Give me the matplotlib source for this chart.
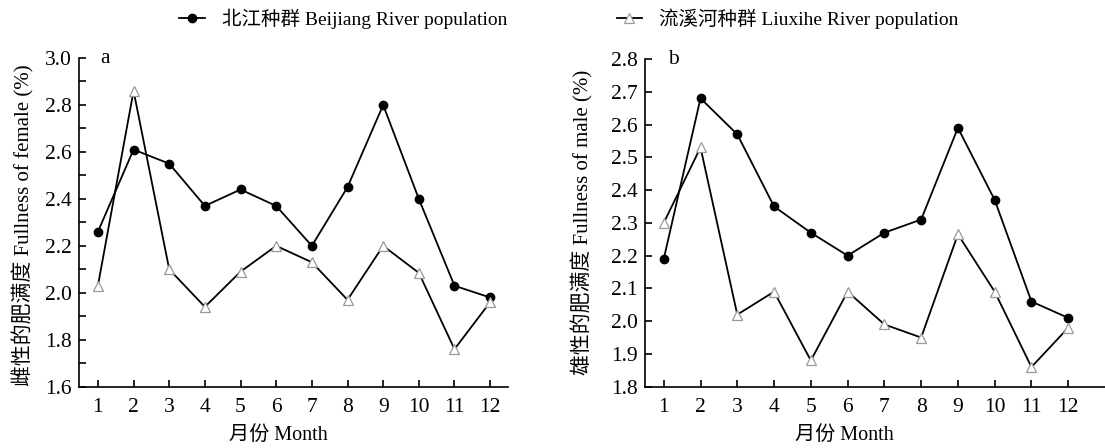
import numpy as np
import matplotlib.pyplot as plt
from matplotlib.ticker import MultipleLocator, FormatStrFormatter
from matplotlib.lines import Line2D

plt.rcParams['font.family'] = ['Liberation Serif', 'Noto Sans CJK SC']
plt.rcParams['axes.unicode_minus'] = False

months = np.arange(1, 13)

# female fullness (%)
female_beijiang = [2.26, 2.61, 2.55, 2.37, 2.44, 2.37, 2.20, 2.45, 2.80, 2.40, 2.03, 1.98]
female_liuxihe = [2.03, 2.86, 2.10, 1.94, 2.09, 2.20, 2.13, 1.97, 2.20, 2.085, 1.76, 1.96]

# male fullness (%)
male_beijiang = [2.19, 2.68, 2.57, 2.35, 2.27, 2.20, 2.27, 2.31, 2.59, 2.37, 2.06, 2.01]
male_liuxihe = [2.30, 2.53, 2.02, 2.09, 1.88, 2.09, 1.99, 1.95, 2.265, 2.09, 1.86, 1.98]

label_bj = '北江种群 Beijiang River population'
label_lx = '流溪河种群 Liuxihe River population'

fig = plt.figure(figsize=(11.05, 4.48), dpi=100)
ax1 = fig.add_axes([0.0715, 0.1368, 0.3882, 0.7337])
ax2 = fig.add_axes([0.5837, 0.1368, 0.4163, 0.7315])

fs = 15.5


def draw(ax, bj, lx, ylim, major, ylabel, letter, xlab_x):
    ax.plot(months, bj, color='black', lw=1.3, marker='o', ms=6,
            mfc='black', mec='black')
    ax.plot(months, lx, color='black', lw=1.3, marker='^', ms=7.5,
            mfc='white', mec='#999999', mew=0.9)
    ax.set_ylim(*ylim)
    ax.yaxis.set_major_locator(MultipleLocator(major))
    ax.yaxis.set_minor_locator(MultipleLocator(0.1))
    ax.yaxis.set_major_formatter(FormatStrFormatter('%.1f'))
    ax.set_xticks(months)
    for s in ['top', 'right']:
        ax.spines[s].set_visible(False)
    for s in ['left', 'bottom']:
        ax.spines[s].set_linewidth(1.2)
    ax.tick_params(axis='both', which='both', direction='in', labelsize=fs, width=1.2)
    ax.tick_params(axis='y', which='major', length=5, pad=5)
    ax.tick_params(axis='y', which='minor', length=5)
    ax.tick_params(axis='x', length=5, pad=8)
    ax.set_ylabel(ylabel, fontsize=15)
    ax.set_xlabel('月份 Month', fontsize=14.5)
    ax.xaxis.set_label_coords(xlab_x, -0.12)
    ax.text(0.05, 1.0, letter, transform=ax.transAxes, fontsize=fs, va='center')


draw(ax1, female_beijiang, female_liuxihe, (1.6, 3.0), 0.2,
     '雌性的肥满度 Fullness of female (%)', 'a', 0.464)
ax1.set_xlim(0.47, 12.5)
ax1.yaxis.set_label_coords(-0.103, 0.49)

draw(ax2, male_beijiang, male_liuxihe, (1.8, 2.8), 0.1,
     '雄性的肥满度 Fullness of male (%)', 'b', 0.433)
ax2.set_xlim(0.49, 13.0)
ax2.yaxis.set_label_coords(-0.113, 0.5)

handles = [
    Line2D([], [], color='black', lw=1.3, marker='o', ms=6, mfc='black', mec='black'),
    Line2D([], [], color='black', lw=1.3, marker='^', ms=7.5, mfc='white', mec='#999999', mew=0.9),
]
fig.legend(handles, [label_bj, label_lx], loc='center', bbox_to_anchor=(0.515, 0.958),
           ncol=2, frameon=False, fontsize=14, handlelength=1.3, columnspacing=5.6,
           handletextpad=0.9)

fig.savefig('out.png', dpi=100)
